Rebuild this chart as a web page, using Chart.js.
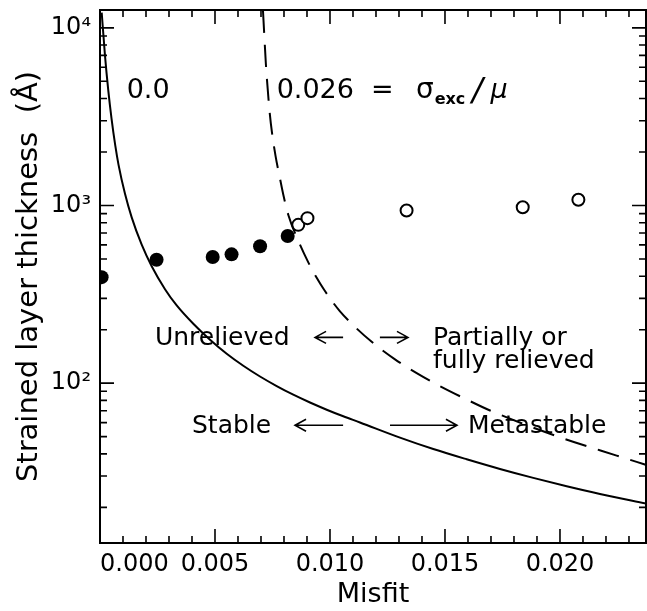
<!DOCTYPE html>
<html><head><meta charset="utf-8">
<script src="https://cdn.jsdelivr.net/npm/chart.js@4"></script>
<style>html,body{margin:0;padding:0;background:#fff}canvas{display:block}</style>
</head><body>
<canvas id="c" width="647" height="611"></canvas>
<script>
// ---- data ----
const solidX = [0.000074, 0.000217, 0.000361, 0.0005, 0.000665, 0.000804, 0.001087, 0.001378, 0.001813, 0.002248, 0.002826, 0.003335, 0.004057, 0.004783, 0.005509, 0.00623, 0.006957, 0.007683, 0.008404, 0.00913, 0.009857, 0.010578, 0.011304, 0.013043, 0.014491, 0.015943, 0.017391, 0.018839, 0.020291, 0.021739, 0.02377];
const solidY = [12190, 6971, 4432, 3093, 2170, 1699, 1163, 857.5, 601.5, 454.9, 338.1, 273.9, 215.9, 175.5, 146.4, 125.3, 109.0, 96.3, 86.1, 77.8, 70.9, 65.1, 60.1, 49.4, 42.6, 37.3, 32.9, 29.3, 26.3, 23.8, 21.0];
const dashedX = [0.007087, 0.007152, 0.007209, 0.007291, 0.00737, 0.007478, 0.00763, 0.007826, 0.007978, 0.008196, 0.008652, 0.009057, 0.009422, 0.009709, 0.010143, 0.010435, 0.011013, 0.011813, 0.012826, 0.01377, 0.014783, 0.01587, 0.016957, 0.019783, 0.022465, 0.02377];
const dashedY = [12460, 8670, 6360, 4542, 3418, 2571, 1909, 1418, 1138, 879, 619.7, 478.5, 391.5, 340.8, 283.3, 253.8, 211.7, 170.9, 136.2, 113.8, 96.2, 81.8, 70.2, 50.7, 39.1, 34.6];
const unrelievedX = [0.00007, 0.00246, 0.0049, 0.00572, 0.00696, 0.00816];
const unrelievedY = [395, 495, 513, 531, 590, 673];
const relievedX = [0.00862, 0.00902, 0.01333, 0.01838, 0.0208];
const relievedY = [778, 849, 937, 978, 1077];
const xMajorTicks = [0, 0.005, 0.01, 0.015, 0.02];
const xTickLabels = ['0.000', '0.005', '0.010', '0.015', '0.020'];
const yMajorTicks = [100, 1000, 10000];
const yTickLabels = ['10²', '10³', '10⁴'];
const xLabel = 'Misfit';
const yLabel = 'Strained layer thickness  (Å)';

const xMin = 0, xMax = 0.02374, yMin = 12.6, yMax = 12600;

const pts = (xs, ys) => xs.map((x, i) => ({x, y: ys[i]}));

// text annotations in data coordinates
const F = '"DejaVu Sans", sans-serif';
const notes = [
  {text: '0.0', x: 0.00116, y: 4046, font: '27px ' + F},
  {text: '0.026', x: 0.00768, y: 4046, font: '27px ' + F},
  {text: '=', x: 0.01178, y: 4046, font: '27px ' + F},
  {text: 'σ', x: 0.01374, y: 4046, font: '28px ' + F},
  {text: 'exc', x: 0.01455, y: 3740, font: 'bold 16px ' + F},
  {text: '/', x: 0.01617, y: 3900, font: 'italic 32px ' + F},
  {text: 'μ', x: 0.01698, y: 4046, font: 'italic 27px ' + F},
  {text: 'Unrelieved', x: 0.00239, y: 163.6, font: '25px ' + F},
  {text: 'Partially or', x: 0.01448, y: 163.6, font: '25px ' + F},
  {text: 'fully relieved', x: 0.01448, y: 121.4, font: '25px ' + F},
  {text: 'Stable', x: 0.004, y: 52.2, font: '25px ' + F},
  {text: 'Metastable', x: 0.016, y: 52.2, font: '25px ' + F}
];
const arrows = [
  {x1: 0.01057, x2: 0.00935, y: 181},
  {x1: 0.01217, x2: 0.01339, y: 181},
  {x1: 0.01057, x2: 0.00848, y: 58},
  {x1: 0.01261, x2: 0.01552, y: 58}
];

const isMajor = (v, list) => list.some(m => Math.abs(m - v) < 1e-9 * Math.max(1, m));

const framePlugin = {
  id: 'frame',
  afterDatasetsDraw(chart) {
    const {ctx, chartArea: a, scales: {x, y}} = chart;
    ctx.save();
    ctx.strokeStyle = '#000';
    ctx.lineWidth = 2;
    ctx.strokeRect(a.left, a.top, a.right - a.left, a.bottom - a.top);
    ctx.lineWidth = 1.6;
    ctx.beginPath();
    x.ticks.forEach(t => {
      const px = x.getPixelForValue(t.value);
      if (px < a.left + 1 || px > a.right - 1) return;
      const L = isMajor(t.value, xMajorTicks) ? 14 : 7;
      ctx.moveTo(px, a.bottom); ctx.lineTo(px, a.bottom - L);
      ctx.moveTo(px, a.top); ctx.lineTo(px, a.top + L);
    });
    y.ticks.forEach(t => {
      const py = y.getPixelForValue(t.value);
      if (py < a.top || py > a.bottom) return;
      const L = isMajor(t.value, yMajorTicks) ? 14 : 7;
      ctx.moveTo(a.left, py); ctx.lineTo(a.left + L, py);
      ctx.moveTo(a.right, py); ctx.lineTo(a.right - L, py);
    });
    ctx.stroke();
    ctx.restore();
  },
  afterDraw(chart) {
    const {ctx, scales: {x, y}} = chart;
    ctx.save();
    ctx.fillStyle = '#000';
    ctx.textBaseline = 'alphabetic';
    ctx.textAlign = 'left';
    notes.forEach(n => {
      ctx.font = n.font;
      ctx.fillText(n.text, x.getPixelForValue(n.x), y.getPixelForValue(n.y));
    });
    ctx.strokeStyle = '#000';
    ctx.lineWidth = 1.6;
    arrows.forEach(ar => {
      const x1 = x.getPixelForValue(ar.x1), x2 = x.getPixelForValue(ar.x2), py = y.getPixelForValue(ar.y);
      const d = Math.sign(x2 - x1);
      ctx.beginPath();
      ctx.moveTo(x1, py); ctx.lineTo(x2, py);
      ctx.moveTo(x2 - d * 11, py - 6); ctx.lineTo(x2, py); ctx.lineTo(x2 - d * 11, py + 6);
      ctx.stroke();
    });
    ctx.restore();
  }
};

const xTickValues = [];
for (let k = 0; k <= 23; k++) xTickValues.push(k / 1000);
const yTickValues = [];
[10, 100, 1000, 10000].forEach(d => { for (let m = 1; m <= 9; m++) { const v = m * d; if (v >= yMin && v <= yMax) yTickValues.push(v); } });

new Chart(document.getElementById('c'), {
  type: 'scatter',
  data: {
    datasets: [
      {label: 'σexc/μ = 0.0', data: pts(solidX, solidY), showLine: true, borderColor: '#000', borderWidth: 2, pointRadius: 0, fill: false, cubicInterpolationMode: 'monotone', clip: 0},
      {label: 'σexc/μ = 0.026', data: pts(dashedX, dashedY), showLine: true, borderColor: '#000', borderWidth: 2, borderDash: [22, 12], pointRadius: 0, fill: false, cubicInterpolationMode: 'monotone', clip: 0},
      {label: 'Unrelieved', data: pts(unrelievedX, unrelievedY), showLine: false, pointRadius: 7, pointBackgroundColor: '#000', pointBorderColor: '#000', pointBorderWidth: 0, clip: 0},
      {label: 'Relieved', data: pts(relievedX, relievedY), showLine: false, pointRadius: 6, pointBackgroundColor: '#fff', pointBorderColor: '#000', pointBorderWidth: 2, clip: 0}
    ]
  },
  options: {
    responsive: false,
    animation: false,
    events: [],
    layout: {autoPadding: false, padding: {top: 10, right: 1, left: 0, bottom: 0}},
    plugins: {legend: {display: false}, tooltip: {enabled: false}},
    scales: {
      x: {
        type: 'linear', min: xMin, max: xMax,
        grid: {display: false, drawTicks: false},
        border: {display: false},
        afterBuildTicks: s => { s.ticks = xTickValues.map(v => ({value: v})); },
        afterFit: s => { s.height = 68; s.paddingLeft = 0; s.paddingRight = 0; },
        ticks: {
          autoSkip: false, maxRotation: 0, minRotation: 0, align: 'inner', padding: 7,
          color: '#000', font: {family: 'DejaVu Sans', size: 24},
          callback: v => { const i = xMajorTicks.findIndex(m => Math.abs(m - v) < 1e-9); return i >= 0 ? xTickLabels[i] : ''; }
        },
        title: {display: true, text: xLabel, color: '#000', font: {family: 'DejaVu Sans', size: 27}, padding: {top: 0, bottom: 0}}
      },
      y: {
        type: 'logarithmic', min: yMin, max: yMax,
        grid: {display: false, drawTicks: false},
        border: {display: false},
        afterBuildTicks: s => { s.ticks = yTickValues.map(v => ({value: v})); },
        afterFit: s => { s.width = 100; s.paddingTop = 0; s.paddingBottom = 0; },
        ticks: {
          autoSkip: false, padding: 9,
          color: '#000', font: {family: 'DejaVu Sans', size: 24},
          callback: v => { const i = yMajorTicks.indexOf(v); return i >= 0 ? yTickLabels[i] : ''; }
        },
        title: {display: true, text: yLabel, color: '#000', font: {family: 'DejaVu Sans', size: 29}, padding: {top: 12, bottom: 0}}
      }
    }
  },
  plugins: [framePlugin]
});
</script>
</body></html>
